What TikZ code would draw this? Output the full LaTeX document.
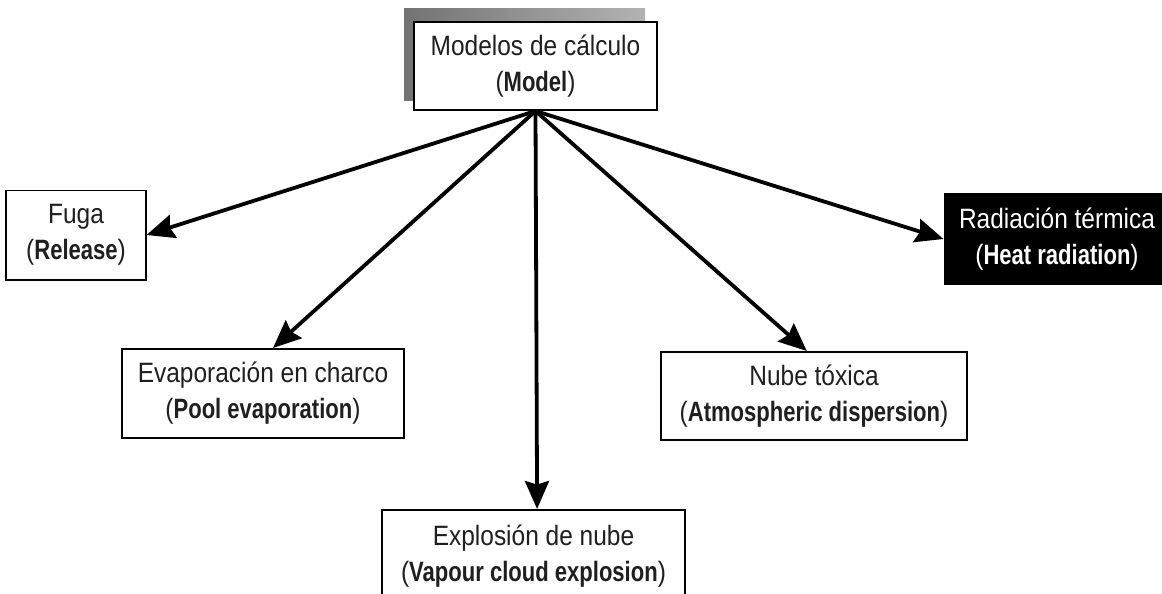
\documentclass[tikz,border=0pt]{standalone}
\usepackage{fontspec}
\setmainfont{Liberation Sans}[FakeStretch=0.875]
\usepackage{graphicx}
\usetikzlibrary{arrows.meta}
\newcommand\eb[1]{\scalebox{0.9}[1]{\bfseries #1}}
\begin{document}
\begin{tikzpicture}[x=0.025cm,y=-0.025cm,
 box/.style={draw=black,line width=1.4pt,fill=white,align=center,inner sep=0pt,
   font=\fontsize{19.9}{25.6}\selectfont,text=black!88},
 txt/.style={align=center,inner sep=0pt,font=\fontsize{19.9}{25.6}\selectfont,text=black!88},
 arr/.style={line width=2.7pt,-{Stealth[length=7mm,width=6mm,inset=0.9mm]}}]
\clip (0,0) rectangle (1162,593);
\fill[white] (0,0) rectangle (1162,593);
\shade[left color=black!55,right color=black!30] (404,8) rectangle (645,100);
\node[box,minimum width=6.075cm,minimum height=2.2cm] (m) at (535.5,66)
  {Modelos de cálculo\\(\eb{Model})};
\node[box,minimum width=3.475cm,minimum height=2.225cm] (f) at (76,235)
  {Fuga\\(\eb{Release})};
\node[box,fill=black,text=white,minimum width=5.625cm,minimum height=2.25cm] (r) at (1057,239)
  {Radiación térmica\\(\eb{Heat radiation})};
\node[box,minimum width=7.05cm,minimum height=2.225cm] (e) at (263,393.5)
  {Evaporación en charco\\(\eb{Pool evaporation})};
\node[box,minimum width=7.65cm,minimum height=2.2cm] (n) at (814,396)
  {Nube tóxica\\(\eb{Atmospheric dispersion})};
\node[box,minimum width=7.575cm,minimum height=3cm,anchor=north] (x) at (533.5,509) {};
\node[txt] (xt) at (533.5,556)
  {Explosión de nube\\(\eb{Vapour cloud explosion})};
\draw[arr] (m.south) -- (f.east);
\draw[arr] (m.south) -- (r.west);
\draw[arr] (m.south) -- ([xshift=0.25cm]e.north);
\draw[arr] (m.south) -- ([xshift=-0.18cm]n.north);
\draw[arr] (m.south) -- ([xshift=0.09cm]x.north);
\end{tikzpicture}
\end{document}
